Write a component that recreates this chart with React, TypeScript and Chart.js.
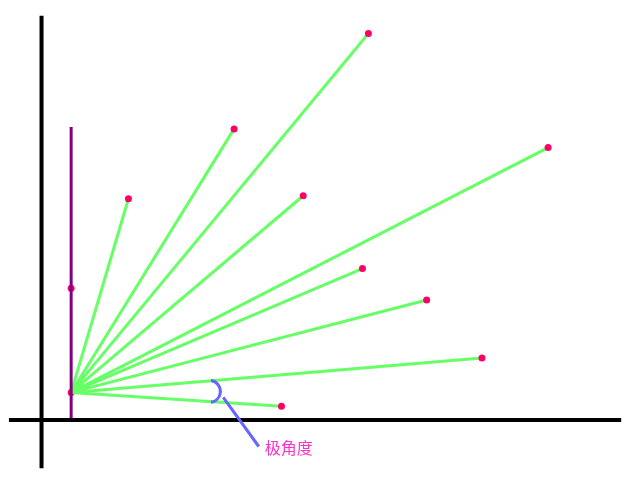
import React, { useEffect, useRef } from "react";
import { Chart, registerables } from "chart.js";
Chart.register(...registerables);

const spokeX = [58, 165, 301, 235, 483, 295, 360, 416, 213];
const spokeY = [197, 268, 365, 200, 249, 126, 94, 35, -14];
const purpleX = [0, 0];
const purpleY = [270, -30];
const purplePtsY = [106, 0];
const xAxisLine = [[-63, -28], [557, -28]];
const yAxisLine = [[-30, 383], [-30, -77]];
const label = "极角度";

export default function App() {
  const ref = useRef<HTMLCanvasElement>(null);
  useEffect(() => {
    const datasets: any[] = [];
    datasets.push({ data: xAxisLine.map(([x, y]) => ({ x, y })), borderColor: "#000", borderWidth: 4, pointRadius: 0, showLine: true });
    datasets.push({ data: yAxisLine.map(([x, y]) => ({ x, y })), borderColor: "#000", borderWidth: 4, pointRadius: 0, showLine: true });
    datasets.push({ data: purpleX.map((x, i) => ({ x, y: purpleY[i] })), borderColor: "#800080", borderWidth: 3, pointRadius: 0, showLine: true });
    spokeX.forEach((x, i) => {
      datasets.push({
        data: [{ x: 0, y: 0 }, { x, y: spokeY[i] }],
        borderColor: "#66ff66", borderWidth: 3, showLine: true,
        pointRadius: [0, 3.5], pointBackgroundColor: "#ff0066", pointBorderWidth: 0,
      });
    });
    datasets.push({ data: purplePtsY.map((y) => ({ x: 0, y })), pointRadius: 3.5, pointBackgroundColor: "#ff0066", pointBorderWidth: 0, showLine: false });

    const deco = {
      id: "deco",
      afterDatasetsDraw(chart: any) {
        const { ctx, scales } = chart;
        const px = (v: number) => scales.x.getPixelForValue(v);
        const py = (v: number) => scales.y.getPixelForValue(v);
        ctx.save();
        ctx.strokeStyle = "#6666ff";
        ctx.lineWidth = 3;
        ctx.beginPath();
        ctx.arc(px(140), py(1), 11, -Math.PI / 2.2, Math.PI / 2.2);
        ctx.stroke();
        ctx.beginPath();
        ctx.moveTo(px(154), py(-5));
        ctx.lineTo(px(190), py(-55));
        ctx.stroke();
        ctx.fillStyle = "#ff33cc";
        ctx.font = "16px 'Noto Sans CJK SC'";
        ctx.textBaseline = "middle";
        ctx.fillText(label, px(196), py(-56));
        ctx.restore();
      },
    };

    const chart = new Chart(ref.current!, {
      type: "scatter",
      data: { datasets },
      options: {
        animation: false, responsive: false, layout: { padding: 0 },
        plugins: { legend: { display: false }, tooltip: { enabled: false } },
        scales: {
          x: { type: "linear", min: -68, max: 572, display: false },
          y: { type: "linear", min: -85, max: 395, display: false },
        },
      },
      plugins: [deco],
    });
    return () => chart.destroy();
  }, []);
  return (
    <div style={{ position: "fixed", left: 0, top: 0, width: 640, height: 480, background: "#fff" }}>
      <canvas ref={ref} width={640} height={480} />
    </div>
  );
}
